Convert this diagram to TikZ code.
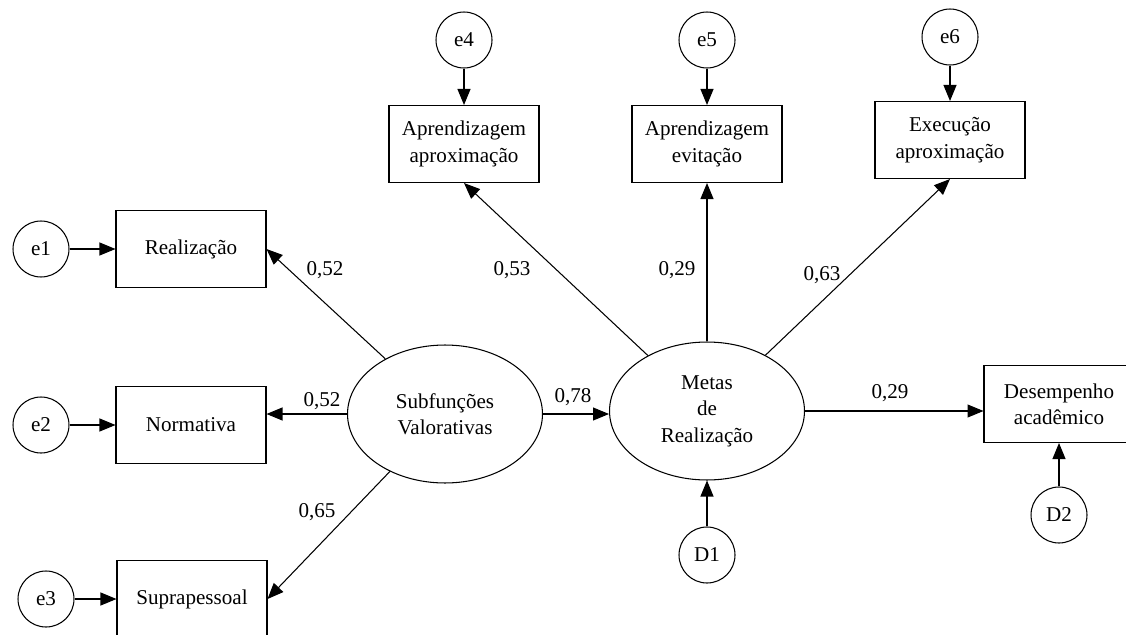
\documentclass[tikz,border=0pt]{standalone}
\usepackage{fontspec}
\setmainfont{Liberation Serif}
\usetikzlibrary{arrows.meta, positioning, shapes.geometric}

\begin{document}
\begin{tikzpicture}[x=0.02cm, y=-0.02cm,
        font=\fontsize{12}{15}\selectfont,
        obs/.style={draw, line width=0.6pt, minimum width=3cm, minimum height=1.54cm, align=center, inner sep=2pt},
        lat/.style={draw, ellipse, line width=0.6pt, minimum width=3.9cm, minimum height=2.76cm, align=center},
        err/.style={draw, circle, line width=0.6pt, minimum size=1.12cm, inner sep=0pt},
        seta/.style={-{Triangle[length=0.32cm, width=0.26cm]}, line width=0.6pt},
        coef/.style={inner sep=1pt}]
        \useasboundingbox (0,0) rectangle (1126,635);

        % Variaveis latentes
        \node[lat] (subf) at (445,414) {Subfunções\\Valorativas};
        \node[lat] (metas) at (707,411) {Metas\\de\\Realização};

        % Indicadores
        \node[obs] (real) at (191,249) {Realização};
        \node[obs] (norm) at (191,425) {Normativa};
        \node[obs] (supra) at (192,599) {Suprapessoal};
        \node[obs] (aap) at (464,144) {Aprendizagem\\aproximação};
        \node[obs] (aev) at (707,144) {Aprendizagem\\evitação};
        \node[obs] (exa) at (950,140) {Execução\\aproximação};
        \node[obs] (des) at (1059,404) {Desempenho\\acadêmico};

        % Erros
        \node[err] (e1) at (41,249) {e1};
        \node[err] (e2) at (41,425) {e2};
        \node[err] (e3) at (46,599) {e3};
        \node[err] (e4) at (464,40) {e4};
        \node[err] (e5) at (707,40) {e5};
        \node[err] (e6) at (950,37) {e6};
        \node[err] (d1) at (707,555) {D1};
        \node[err] (d2) at (1059,515) {D2};

        \draw[seta] (e1) -- (real);
        \draw[seta] (e2) -- (norm);
        \draw[seta] (e3) -- (supra);
        \draw[seta] (e4) -- (aap);
        \draw[seta] (e5) -- (aev);
        \draw[seta] (e6) -- (exa);
        \draw[seta] (d1) -- (metas.south);
        \draw[seta] (d2) -- (des.south);

        % Cargas
        \draw[seta] (subf) -- (real.east);
        \draw[seta] (subf.west) -- (subf.west -| norm.east);
        \draw[seta] (subf) -- (supra.east);
        \draw[seta] (subf.east) -- (subf.east -| metas.west);
        \draw[seta] (metas) -- (aap.south);
        \draw[seta] (metas.north) -- (aev.south);
        \draw[seta] (metas) -- (exa.south);
        \draw[seta] (metas.east) -- (metas.east -| des.west);

        \node[coef] (c1) at (325,270) {0,52};
        \node[coef] (c2) at (322,401) {0,52};
        \node[coef] (c3) at (317,512) {0,65};
        \node[coef] (c4) at (573,397) {0,78};
        \node[coef] (c5) at (512,270) {0,53};
        \node[coef] (c6) at (677,270) {0,29};
        \node[coef] (c7) at (822,275) {0,63};
        \node[coef] (c8) at (890,393) {0,29};
\end{tikzpicture}
\end{document}
